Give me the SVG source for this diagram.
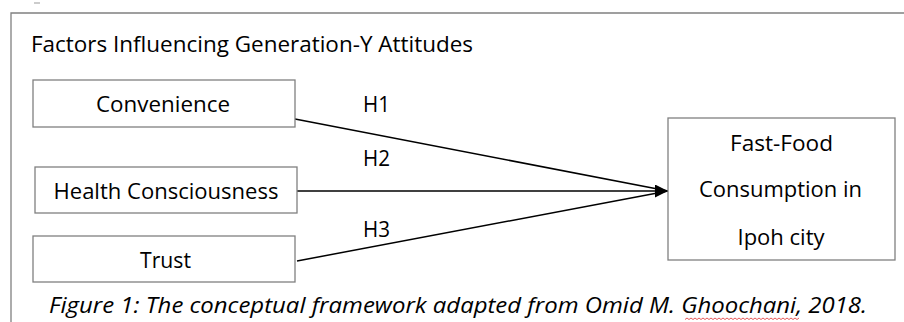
<svg xmlns="http://www.w3.org/2000/svg" width="904" height="322" viewBox="0 0 904 322">
<defs>
<style>
.box{fill:#fff;stroke:#808080;stroke-width:1.3}
.t{font-family:"Open Sans","Noto Sans","Liberation Sans",sans-serif;font-size:21px;fill:#000}
.c{text-anchor:middle}
.edge{stroke:#000;stroke-width:1.5;fill:none}
.frame{stroke:#808080;stroke-width:1.3;fill:none}
</style>
<marker id="arr" markerUnits="userSpaceOnUse" markerWidth="14" markerHeight="13" refX="13" refY="6.5" orient="auto">
<path d="M0,0 L13,6.5 L0,13 z" fill="#000"/>
</marker>
</defs>
<rect width="904" height="322" fill="#fff"/>
<line x1="34" y1="3" x2="40" y2="3" stroke="#999" stroke-width="1"/>
<path class="frame" d="M11,322 V13 H904"/>
<text class="t" x="31" y="52" textLength="442" lengthAdjust="spacingAndGlyphs">Factors Influencing Generation-Y Attitudes</text>
<g id="connectors">
<line class="edge" x1="295" y1="119" x2="668" y2="191"/>
<line class="edge" x1="297" y1="191" x2="668" y2="191" marker-end="url(#arr)"/>
<line class="edge" x1="297" y1="261" x2="668" y2="191"/>
<text class="t" x="363" y="112" textLength="27" lengthAdjust="spacingAndGlyphs">H1</text>
<text class="t" x="363" y="166" textLength="27" lengthAdjust="spacingAndGlyphs">H2</text>
<text class="t" x="363" y="237" textLength="27" lengthAdjust="spacingAndGlyphs">H3</text>
</g>
<g id="convenience">
<rect class="box" x="33" y="80" width="262" height="47"/>
<text class="t c" x="163" y="112" textLength="134" lengthAdjust="spacingAndGlyphs">Convenience</text>
</g>
<g id="health">
<rect class="box" x="35" y="167" width="262" height="46"/>
<text class="t c" x="166" y="199" textLength="225" lengthAdjust="spacingAndGlyphs">Health Consciousness</text>
</g>
<g id="trust">
<rect class="box" x="33" y="236" width="262" height="46"/>
<text class="t c" x="165.5" y="268" textLength="51" lengthAdjust="spacingAndGlyphs">Trust</text>
</g>
<g id="fastfood">
<rect class="box" x="668" y="118" width="227" height="142"/>
<text class="t c" x="781.5" y="151" textLength="103" lengthAdjust="spacingAndGlyphs">Fast-Food</text>
<text class="t c" x="780.5" y="197" textLength="163" lengthAdjust="spacingAndGlyphs">Consumption in</text>
<text class="t c" x="781" y="245" textLength="87" lengthAdjust="spacingAndGlyphs">Ipoh city</text>
</g>
<text class="t" x="49" y="313" font-style="italic" font-size="22" textLength="818" lengthAdjust="spacingAndGlyphs">Figure 1: The conceptual framework adapted from Omid M. Ghoochani, 2018.</text>
<path d="M685,319.5 l2,-1.5 l2,1.5 l2,-1.5 l2,1.5 l2,-1.5 l2,1.5 l2,-1.5 l2,1.5 l2,-1.5 l2,1.5 l2,-1.5 l2,1.5 l2,-1.5 l2,1.5 l2,-1.5 l2,1.5 l2,-1.5 l2,1.5 l2,-1.5 l2,1.5 l2,-1.5 l2,1.5 l2,-1.5 l2,1.5 l2,-1.5 l2,1.5 l2,-1.5 l2,1.5 l2,-1.5 l2,1.5 l2,-1.5 l2,1.5 l2,-1.5 l2,1.5 l2,-1.5 l2,1.5 l2,-1.5 l2,1.5 l2,-1.5 l2,1.5 l2,-1.5 l2,1.5 l2,-1.5 l2,1.5 l2,-1.5 l2,1.5 l2,-1.5 l2,1.5 l2,-1.5 l2,1.5 l2,-1.5 l2,1.5 l2,-1.5 l2,1.5 l2,-1.5 l2,1.5 l2,-1.5" fill="none" stroke="#e03030" stroke-width="0.8"/>
</svg>
